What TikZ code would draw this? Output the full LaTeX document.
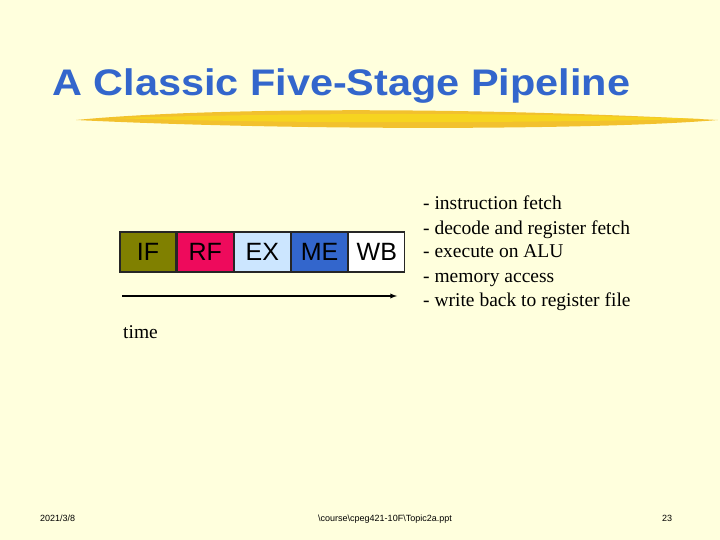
\documentclass[tikz,border=0pt]{standalone}
\usepackage{fontspec}
\setmainfont{Liberation Serif}
\setsansfont{Liberation Sans}
\usetikzlibrary{positioning}
\definecolor{slidebg}{HTML}{FFFFDD}
\definecolor{titleblue}{HTML}{3366CC}
\definecolor{brushgold}{HTML}{F2C12E}
\definecolor{ifolive}{HTML}{808000}
\definecolor{rfpink}{HTML}{EE0A5C}
\definecolor{exblue}{HTML}{CCE6FF}
\definecolor{meblue}{HTML}{3366CC}
\tikzset{
  stagebox/.style={draw=black!85, line width=1.2pt, minimum width=56pt, minimum height=40pt,
    inner sep=0pt, font=\sffamily\fontsize{25}{25}\selectfont},
  stepline/.style={anchor=base west, font=\fontsize{19.5}{19.5}\selectfont},
  footnote/.style={anchor=base, font=\sffamily\fontsize{9}{9}\selectfont}
}
\begin{document}
\begin{tikzpicture}[x=1pt,y=-1pt]
  \fill[slidebg] (0,0) rectangle (720,540);
  \useasboundingbox (0,0) rectangle (720,540);
  % title and brush stroke
  \node[anchor=base west, inner sep=0pt, text=titleblue, xscale=1.12,
    font=\sffamily\bfseries\fontsize{37}{37}\selectfont] (title) at (52,96) {A Classic Five-Stage Pipeline};
  \fill[brushgold] (76,120) .. controls (200,108) and (450,106) .. (718,120)
    .. controls (600,130) and (300,131) .. (76,120) -- cycle;
  \fill[brushgold!70!yellow] (110,118) .. controls (300,113) and (500,112) .. (700,119)
    .. controls (500,123) and (300,124) .. (110,118) -- cycle;
  % pipeline stages
  \node[stagebox, fill=ifolive] (if) at (148,252) {IF};
  \node[stagebox, fill=rfpink, right=0pt of if] (rf) {RF};
  \node[stagebox, fill=exblue, right=0pt of rf] (ex) {EX};
  \node[stagebox, fill=meblue, right=0pt of ex] (me) {ME};
  \node[stagebox, fill=white, right=0pt of me] (wb) {WB};
  \coordinate (tstart) at (122,296);
  \coordinate (tend) at (397,296);
  \draw[-latex, line width=1.3pt] (tstart) -- (tend);
  \node[stepline, inner sep=0pt] (time) at (123,338) {time};
  % stage descriptions
  \node[stepline, inner sep=0pt] (s1) at (423,210) {- instruction fetch};
  \node[stepline, inner sep=0pt] (s2) at (423,234) {- decode and register fetch};
  \node[stepline, inner sep=0pt] (s3) at (423,258) {- execute on ALU};
  \node[stepline, inner sep=0pt] (s4) at (423,282) {- memory access};
  \node[stepline, inner sep=0pt] (s5) at (423,306) {- write back to register file};
  % footer
  \node[footnote, anchor=base west, inner sep=0pt] (date) at (40,521) {2021/3/8};
  \node[footnote] (path) at (385,521) {\textbackslash course\textbackslash cpeg421-10F\textbackslash Topic2a.ppt};
  \node[footnote] (page) at (667,521) {23};
\end{tikzpicture}
\end{document}
